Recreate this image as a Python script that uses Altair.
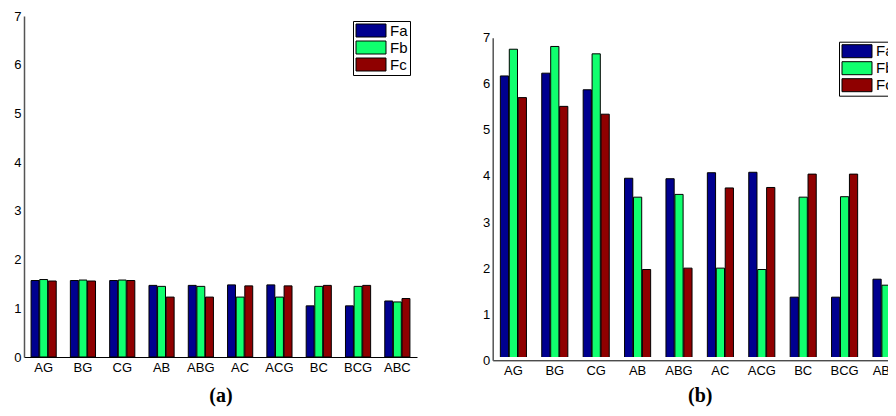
import altair as alt
import pandas as pd

categories = ["AG", "BG", "CG", "AB", "ABG", "AC", "ACG", "BC", "BCG", "ABC"]
series = ["Fa", "Fb", "Fc"]
colors = ["#00008f", "#10ff6e", "#8f0000"]

fa_a = [1.57, 1.57, 1.57, 1.47, 1.47, 1.48, 1.48, 1.05, 1.05, 1.15]
fb_a = [1.59, 1.58, 1.58, 1.45, 1.45, 1.23, 1.23, 1.45, 1.45, 1.13]
fc_a = [1.56, 1.56, 1.57, 1.23, 1.23, 1.46, 1.46, 1.47, 1.47, 1.20]

fa_b = [6.17, 6.23, 5.87, 3.95, 3.94, 4.07, 4.08, 1.37, 1.37, 1.76]
fb_b = [6.75, 6.81, 6.65, 3.54, 3.60, 2.00, 1.97, 3.54, 3.55, 1.63]
fc_b = [5.70, 5.51, 5.34, 1.97, 2.00, 3.74, 3.75, 4.04, 4.04, 1.87]

y_ticks = [0, 1, 2, 3, 4, 5, 6, 7]

SANS = "Liberation Sans"
SERIF = "Liberation Serif"


def long_df(a, b, c):
    rows = []
    for i, cat in enumerate(categories):
        for s, vals in zip(series, (a, b, c)):
            rows.append({"cat": cat, "series": s, "value": vals[i]})
    return pd.DataFrame(rows)


def panel(df, label, x_range, y_range, pad_inner, x_off, y_off, leg_x, leg_y, t_pad):
    return (
        alt.Chart(df)
        .mark_bar(stroke="black", strokeWidth=1, clip=True)
        .encode(
            x=alt.X(
                "cat:N",
                sort=categories,
                scale=alt.Scale(range=x_range, paddingInner=pad_inner, paddingOuter=pad_inner / 2),
                axis=alt.Axis(
                    orient="bottom",
                    offset=x_off,
                    title=label,
                    titleFont=SERIF,
                    titleFontSize=20,
                    titleFontWeight="bold",
                    titleColor="black",
                    titlePadding=t_pad,
                    labelAngle=0,
                    labelFont=SANS,
                    labelFontSize=13,
                    labelColor="black",
                    labelPadding=4,
                    ticks=False,
                    tickSize=0,
                    domainColor="black",
                    domainWidth=1,
                ),
            ),
            xOffset=alt.XOffset("series:N", sort=series, scale=alt.Scale(paddingInner=0.08)),
            y=alt.Y(
                "value:Q",
                scale=alt.Scale(domain=[0, 7], nice=False, range=y_range),
                axis=alt.Axis(
                    orient="left",
                    offset=y_off,
                    title=None,
                    values=y_ticks,
                    grid=False,
                    labelFont=SANS,
                    labelFontSize=13,
                    labelColor="black",
                    labelPadding=3,
                    ticks=False,
                    tickSize=0,
                    domainColor="#555555",
                    domainWidth=1.5,
                ),
            ),
            color=alt.Color(
                "series:N",
                sort=series,
                scale=alt.Scale(domain=series, range=colors),
                legend=alt.Legend(
                    title=None,
                    orient="none",
                    legendX=leg_x,
                    legendY=leg_y,
                    fillColor="white",
                    strokeColor="black",
                    padding=2,
                    symbolType="M-1,-1H3.615V1H-1Z",
                    symbolSize=169,
                    symbolStrokeColor="black",
                    symbolStrokeWidth=1,
                    symbolOpacity=1,
                    labelFont=SANS,
                    labelFontSize=15,
                    labelColor="black",
                    labelOffset=20,
                    rowPadding=0,
                ),
            ),
        )
    )


chart_a = panel(long_df(fa_a, fb_a, fc_a), "(a)", [0, 393], [341, 0], 0.36, 0, 0, 329, 5, 11)
chart_b = panel(long_df(fa_b, fb_b, fc_b), "(b)", [468.7, 882.7], [344.3, 21.7], 0.37, 3.3, -468.7, 815, 25.7, 8)

chart = (
    alt.layer(chart_a, chart_b)
    .resolve_scale(x="independent", y="independent", xOffset="independent", color="independent")
    .resolve_axis(x="independent", y="independent")
    .resolve_legend(color="independent")
    .properties(
        width=864,
        height=341,
        autosize=alt.AutoSizeParams(type="none"),
        padding={"left": 16, "top": 8, "right": 0, "bottom": 51},
    )
    .configure_view(stroke=None)
)

chart.save("out.html", embed_options={"renderer": "svg", "actions": False})
